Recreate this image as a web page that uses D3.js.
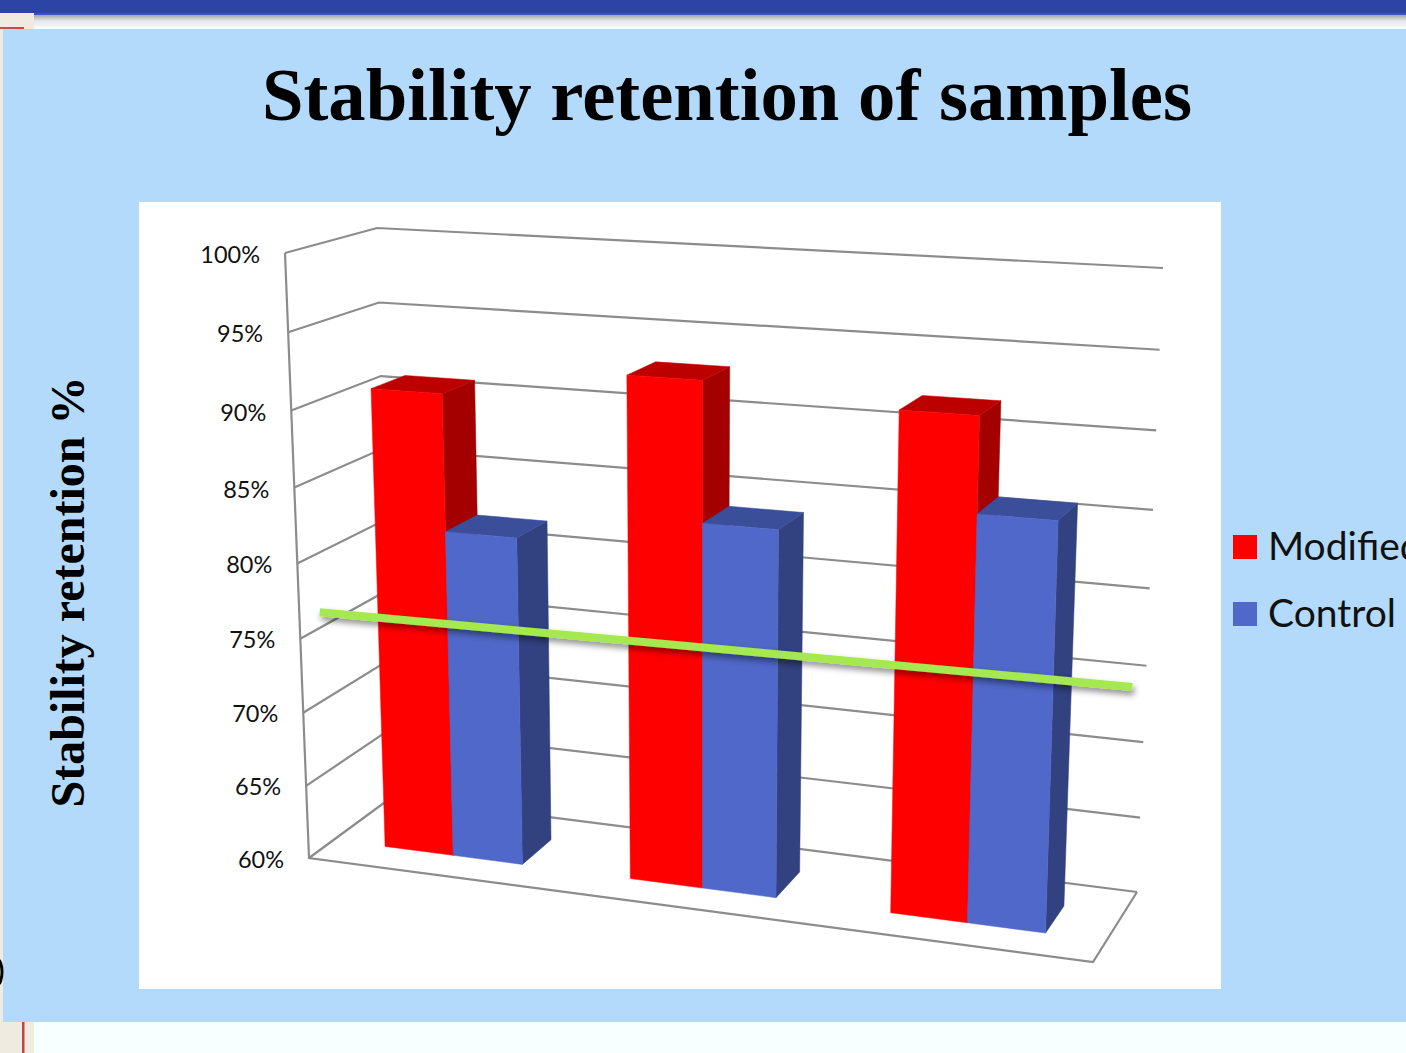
<!DOCTYPE html>
<html>
<head>
<meta charset="utf-8">
<title>Stability retention of samples</title>
<script src="https://cdn.jsdelivr.net/npm/d3@7/dist/d3.min.js"></script>
<style>
  html, body { margin: 0; padding: 0; background: #f7ffff; overflow: hidden; }
  svg { display: block; }
</style>
</head>
<body>
<svg id="slide" width="1406" height="1053"></svg>
<script>
// Chart data
const categories = ["Sample 1", "Sample 2", "Sample 3"];
const seriesNames = ["Modified", "Control"];
const modifiedValues = [91, 93, 92];
const controlValues = [82, 84, 86];
const valueTicks = [60, 65, 70, 75, 80, 85, 90, 95, 100];
const referenceValues = [76.9, 77.3];
const referenceSpan = [0.028, 1.034];

// Colours per series: front, side and top faces
const faceColours = {
  Modified: { front: "#ff0000", side: "#a50000", top: "#bc0000" },
  Control: { front: "#4f68c9", side: "#324180", top: "#3a4e9a" }
};

// Corners of the 3D plot box on the page: [x, y]
const floorBox = { fl: [309, 858], fr: [1093, 962], bl: [392, 797], br: [1137, 892] };
const ceilBox = { fl: [285, 253], fr: [1115, 299], bl: [377, 228], br: [1163, 268] };
const barDepth = [0.3, 0.69];

const svg = d3.select("#slide");
const defs = svg.append("defs");

const bandShade = defs.append("linearGradient")
  .attr("id", "bandShade").attr("x1", 0).attr("y1", 0).attr("x2", 0).attr("y2", 1);
bandShade.append("stop").attr("offset", 0).attr("stop-color", "#8e9296");
bandShade.append("stop").attr("offset", 0.5).attr("stop-color", "#e4e8ea");
bandShade.append("stop").attr("offset", 1).attr("stop-color", "#fafeff");

const softShadow = defs.append("filter").attr("id", "softShadow")
  .attr("x", "-5%").attr("y", "-200%").attr("width", "110%").attr("height", "500%");
softShadow.append("feDropShadow")
  .attr("dx", 2).attr("dy", 4).attr("stdDeviation", 3)
  .attr("flood-color", "#000").attr("flood-opacity", 0.45);

// Slide furniture
svg.append("rect").attr("x", 0).attr("y", 0).attr("width", 34).attr("height", 1053).attr("fill", "#efebe0");
svg.append("rect").attr("x", 34).attr("y", 13).attr("width", 1372).attr("height", 16).attr("fill", "url(#bandShade)");
svg.append("rect").attr("x", 0).attr("y", 0).attr("width", 1406).attr("height", 13).attr("fill", "#2b44a5");
svg.append("rect").attr("x", 34).attr("y", 13).attr("width", 1372).attr("height", 2).attr("fill", "#3a53b4");
svg.append("rect").attr("x", 0).attr("y", 27).attr("width", 24).attr("height", 2).attr("fill", "#cc4a48");
svg.append("rect").attr("x", 22).attr("y", 1022).attr("width", 2.5).attr("height", 31).attr("fill", "#c04446");
svg.append("rect").attr("x", 34).attr("y", 1022).attr("width", 1372).attr("height", 31).attr("fill", "#f7ffff");
svg.append("rect").attr("x", 3).attr("y", 29).attr("width", 1403).attr("height", 993).attr("fill", "#b3dafb");
svg.append("ellipse").attr("cx", -3).attr("cy", 972).attr("rx", 5).attr("ry", 13)
  .attr("fill", "none").attr("stroke", "#000").attr("stroke-width", 3);
svg.append("rect").attr("x", 139).attr("y", 202).attr("width", 1082).attr("height", 787).attr("fill", "#fff");

// Title and rotated axis title
svg.append("text").attr("x", 727).attr("y", 120).attr("text-anchor", "middle")
  .attr("font-family", "'Liberation Serif'").attr("font-weight", "bold").attr("font-size", 74.7)
  .text("Stability retention of samples");
svg.append("text").attr("transform", "translate(84,592) rotate(-90)").attr("text-anchor", "middle")
  .attr("font-family", "'Liberation Serif'").attr("font-weight", "bold").attr("font-size", 48)
  .text("Stability retention %");

// Scales
const categoryScale = d3.scaleBand().domain(categories).range([0, 1]).paddingInner(0.433).paddingOuter(0.2165);
const seriesScale = d3.scaleBand().domain(seriesNames).range([0, categoryScale.bandwidth()]);
const valueScale = d3.scaleLinear().domain([60, 100]).range([0, 1]);

// Foreshortening along the width and height of the box
const foreshorten = (t, c) => t / (c - (c - 1) * t);

const mix = (a, b, k) => [a[0] + (b[0] - a[0]) * k, a[1] + (b[1] - a[1]) * k];
const onPlane = (box, u, w) => mix(mix(box.fl, box.fr, u), mix(box.bl, box.br, u), w);

// Maps (position across, value, depth) to page coordinates
function project(t, value, w) {
  const u = foreshorten(t, 1.095);
  const v = foreshorten(valueScale(value), 1.055);
  return mix(onPlane(floorBox, u, w), onPlane(ceilBox, u, w), v);
}

const outline = d3.line();
const gridColour = "#8c8c8c";
const plot = svg.append("g");

// Back wall and side wall grid
const grid = plot.append("g").attr("fill", "none").attr("stroke", gridColour).attr("stroke-width", 2.2);
grid.selectAll("path.wall").data(valueTicks).join("path").attr("class", "wall")
  .attr("d", d => outline([project(0, d, 0), project(0, d, 1), project(1, d, 1)]));
grid.append("path").attr("d", outline([project(0, 100, 0), project(0, 60, 0), project(1, 60, 0), project(1, 60, 1)]));

// Value labels beside the front edge of the side wall
const tickFormat = d3.format("d");
plot.append("g").selectAll("text").data(valueTicks).join("text")
  .attr("x", d => project(0, d, 0)[0] - 25)
  .attr("y", d => project(0, d, 0)[1] + 9.5 + (d - 60) * 0.02)
  .attr("text-anchor", "end")
  .attr("font-family", "Lato").attr("font-size", 23.5).attr("fill", "#111")
  .text(d => tickFormat(d) + "%");

// Columns: red and blue pair for each category
const columnData = categories.flatMap((c, i) => [
  { category: c, series: seriesNames[0], value: modifiedValues[i] },
  { category: c, series: seriesNames[1], value: controlValues[i] }
]);

const columns = plot.append("g").selectAll("g").data(columnData).join("g");
columns.each(function(d) {
  const g = d3.select(this);
  const t0 = categoryScale(d.category) + seriesScale(d.series);
  const t1 = t0 + seriesScale.bandwidth();
  const [w0, w1] = barDepth;
  const col = faceColours[d.series];
  g.append("path").attr("fill", col.side).attr("stroke", col.side).attr("stroke-width", 0.5)
    .attr("d", outline([project(t1, 60, w0), project(t1, d.value, w0), project(t1, d.value, w1), project(t1, 60, w1)]) + "Z");
  g.append("path").attr("fill", col.top).attr("stroke", col.top).attr("stroke-width", 0.5)
    .attr("d", outline([project(t0, d.value, w0), project(t1, d.value, w0), project(t1, d.value, w1), project(t0, d.value, w1)]) + "Z");
  g.append("path").attr("fill", col.front).attr("stroke", col.front).attr("stroke-width", 0.5)
    .attr("d", outline([project(t0, 60, w0), project(t1, 60, w0), project(t1, d.value, w0), project(t0, d.value, w0)]) + "Z");
});

// Green reference line across the columns
plot.append("path")
  .attr("d", outline([
    project(referenceSpan[0], referenceValues[0], 0),
    project(referenceSpan[1], referenceValues[1], 0)
  ]))
  .attr("fill", "none").attr("stroke", "#a6e84f").attr("stroke-width", 8)
  .attr("filter", "url(#softShadow)");

// Legend
const legend = svg.append("g").selectAll("g").data(seriesNames).join("g")
  .attr("transform", (d, i) => `translate(1233,${535 + i * 67})`);
legend.append("rect").attr("width", 24).attr("height", 24).attr("fill", d => faceColours[d].front);
legend.append("text").attr("x", 35).attr("y", 24.5)
  .attr("font-family", "Lato").attr("font-size", 39).attr("fill", "#111")
  .text(d => d);
</script>
</body>
</html>
